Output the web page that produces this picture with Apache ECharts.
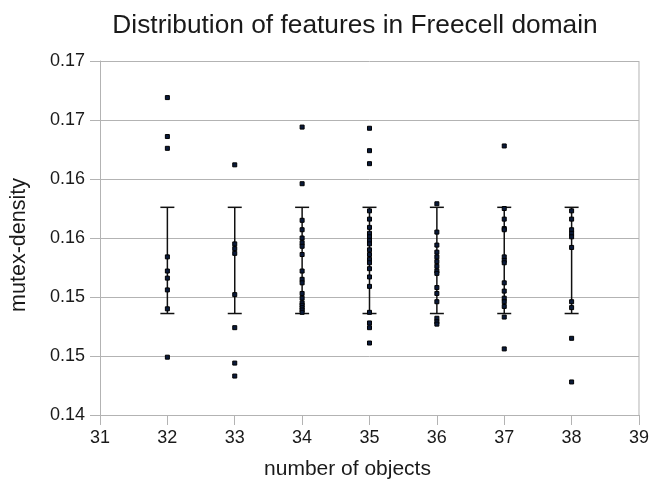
<!DOCTYPE html>
<html>
<head>
<meta charset="utf-8">
<script src="https://cdn.jsdelivr.net/npm/echarts@6/dist/echarts.min.js"></script>
<style>html,body{margin:0;padding:0;background:#fff}#c{width:652px;height:485px}</style>
</head>
<body>
<div id="c"></div>
<script>
const xCategories = [32, 33, 34, 35, 36, 37, 38];
const values32 = [0.1669, 0.1636, 0.1626, 0.1534, 0.1522, 0.1516, 0.1506, 0.1490, 0.1449];
const values33 = [0.1612, 0.1545, 0.1541, 0.1537, 0.1502, 0.1474, 0.1444, 0.1433];
const values34 = [0.1644, 0.1596, 0.1565, 0.1557, 0.1550, 0.1546, 0.1543, 0.1536, 0.1522, 0.1515, 0.1512, 0.1503, 0.1499, 0.1495, 0.1493, 0.1491, 0.1489, 0.1487];
const values35 = [0.1643, 0.1624, 0.1613, 0.1573, 0.1566, 0.1559, 0.1554, 0.1551, 0.1548, 0.1545, 0.1540, 0.1536, 0.1532, 0.1529, 0.1524, 0.1517, 0.1509, 0.1487, 0.1478, 0.1474, 0.1461];
const values36 = [0.1579, 0.1555, 0.1544, 0.1538, 0.1534, 0.1530, 0.1526, 0.1522, 0.1520, 0.1508, 0.1503, 0.1496, 0.1482, 0.1479, 0.1477];
const values37 = [0.1628, 0.1575, 0.1566, 0.1558, 0.1557, 0.1534, 0.1531, 0.1529, 0.1512, 0.1505, 0.1499, 0.1496, 0.1492, 0.1483, 0.1456];
const values38 = [0.1573, 0.1566, 0.1557, 0.1554, 0.1551, 0.1542, 0.1496, 0.1491, 0.1465, 0.1428];
const errLow  = [0.1486, 0.1486, 0.1486, 0.1486, 0.1486, 0.1486, 0.1486];
const errHigh = [0.1576, 0.1576, 0.1576, 0.1576, 0.1576, 0.1576, 0.1576];
const yTickLabels = ['0.14', '0.15', '0.15', '0.16', '0.16', '0.17', '0.17'];
const xTickLabels = ['31', '32', '33', '34', '35', '36', '37', '38', '39'];

const allValues = [values32, values33, values34, values35, values36, values37, values38];
const points = [];
allValues.forEach((arr, i) => arr.forEach(v => points.push([xCategories[i], v])));
const errData = xCategories.map((x, i) => [x, errLow[i], errHigh[i]]);

const FONT = 'Liberation Sans';
const chart = echarts.init(document.getElementById('c'), null, {renderer: 'canvas'});
chart.setOption({
  animation: false,
  backgroundColor: '#fff',
  title: {
    text: 'Distribution of features in Freecell domain',
    left: 350, top: 8, textAlign: 'center',
    textStyle: {fontFamily: FONT, fontSize: 26.3, fontWeight: 'normal', color: '#1a1a1a'}
  },
  grid: {left: 98, right: 12, top: 61, bottom: 64},
  xAxis: {
    type: 'value', min: 31, max: 39, interval: 1,
    name: 'number of objects', nameLocation: 'middle', nameGap: 44,
    nameTextStyle: {fontFamily: FONT, fontSize: 21, color: '#1a1a1a', padding: [0, 44, 0, 0]},
    axisLine: {show: true, lineStyle: {color: '#b3b3b3', width: 1}},
    axisTick: {show: true, length: 10, lineStyle: {color: '#b3b3b3'}},
    axisLabel: {fontFamily: FONT, fontSize: 18, color: '#1a1a1a', margin: 14,
      formatter: (v, i) => xTickLabels[Math.round(v - 31)]},
    splitLine: {show: false}
  },
  yAxis: {
    type: 'value', min: 0.14, max: 0.17, interval: 0.005,
    name: 'mutex-density', nameLocation: 'middle', nameGap: 70,
    nameTextStyle: {fontFamily: FONT, fontSize: 21.5, color: '#1a1a1a', padding: [0, 14, 0, 0]},
    axisLine: {show: true, lineStyle: {color: '#b3b3b3', width: 1}},
    axisTick: {show: true, length: 10, lineStyle: {color: '#b3b3b3'}},
    axisLabel: {fontFamily: FONT, fontSize: 18, color: '#1a1a1a', margin: 15,
      formatter: (v) => yTickLabels[Math.round((v - 0.14) / 0.005)]},
    splitLine: {show: true, lineStyle: {color: '#b3b3b3', width: 1}}
  },
  graphic: [],
  series: [
    {
      type: 'custom',
      data: errData,
      z: 2,
      renderItem: function (params, api) {
        const x = api.value(0);
        const lo = api.coord([x, api.value(1)]);
        const hi = api.coord([x, api.value(2)]);
        const w = 7;
        const style = {stroke: '#111', lineWidth: 1.5};
        return {
          type: 'group',
          children: [
            {type: 'line', shape: {x1: lo[0], y1: lo[1], x2: hi[0], y2: hi[1]}, style},
            {type: 'line', shape: {x1: lo[0] - w, y1: lo[1], x2: lo[0] + w, y2: lo[1]}, style},
            {type: 'line', shape: {x1: hi[0] - w, y1: hi[1], x2: hi[0] + w, y2: hi[1]}, style}
          ]
        };
      }
    },
    {
      type: 'scatter',
      data: points,
      z: 3,
      symbol: 'rect',
      symbolSize: 4,
      itemStyle: {color: '#0a1a3a', borderColor: '#000', borderWidth: 1, opacity: 1}
    }
  ]
});
// right border of the plot area
const rightX = chart.convertToPixel({gridIndex: 0}, [39, 0.14])[0];
const topY = chart.convertToPixel({gridIndex: 0}, [39, 0.17])[1];
const botY = chart.convertToPixel({gridIndex: 0}, [39, 0.14])[1];
chart.setOption({graphic: [{type: 'line', silent: true, z: 1,
  shape: {x1: rightX, y1: topY, x2: rightX, y2: botY}, style: {stroke: '#b3b3b3', lineWidth: 1}}]});
</script>
</body>
</html>
